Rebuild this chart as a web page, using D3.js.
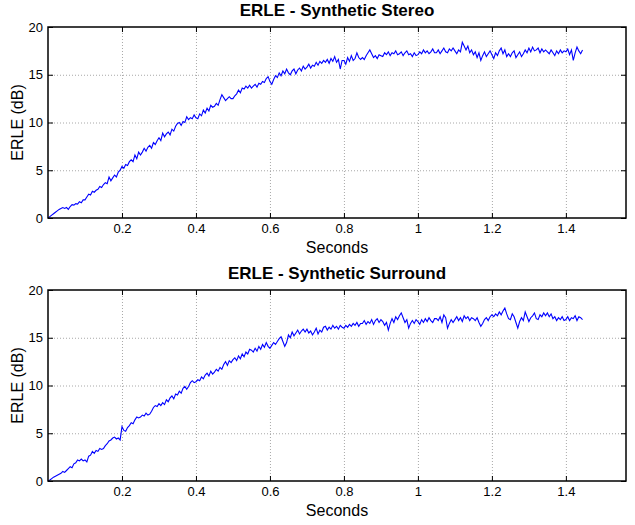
<!DOCTYPE html>
<html>
<head>
<meta charset="utf-8">
<script src="https://cdn.jsdelivr.net/npm/d3@7"></script>
<style>
    body { margin: 0; background: #fff; }
    svg text { font-family: "Liberation Sans", Arial, sans-serif; }
</style>
</head>
<body>
<div id="chart"></div>
<script>
// sample spacing of the curves (seconds)
const step = 0.005;

const xTicks = [0.2, 0.4, 0.6, 0.8, 1, 1.2, 1.4];
const yTicks = [0, 5, 10, 15, 20];

const titles = ['ERLE - Synthetic Stereo', 'ERLE - Synthetic Surround'];

// ERLE (dB), one value every 5 ms
const stereo = [
    0.0, 0.15, 0.3, 0.45, 0.6, 0.75, 0.9, 1.0, 1.1, 1.0,
    1.1, 0.9, 1.2, 1.4, 1.35, 1.5, 1.45, 1.7, 1.6, 1.9,
    1.9, 2.2, 2.5, 2.4, 2.8, 2.7, 2.9, 3.0, 3.3, 3.2,
    3.5, 3.7, 3.6, 4.3, 3.9, 4.2, 4.5, 4.3, 4.8, 5.0,
    5.4, 5.2, 5.6, 5.5, 5.9, 6.1, 5.9, 6.6, 6.2, 6.9,
    6.6, 6.9, 7.3, 7.0, 7.4, 7.6, 7.3, 7.9, 7.7, 8.1,
    8.4, 8.1, 8.9, 8.5, 8.8, 9.0, 8.7, 9.3, 9.1, 9.6,
    9.9, 10.0, 9.7, 10.1, 10.0, 10.6, 10.3, 10.5, 10.4, 10.8,
    10.5, 10.4, 10.9, 10.7, 11.3, 11.0, 11.5, 11.2, 11.8, 11.6,
    11.7, 12.0, 11.8, 12.4, 12.9, 12.6, 12.3, 12.5, 12.7, 12.5,
    12.5, 12.8, 13.0, 13.4, 13.1, 13.6, 13.5, 13.8, 13.6, 13.9,
    13.6, 13.8, 14.0, 13.7, 14.1, 14.0, 14.3, 14.2, 14.6, 14.8,
    14.3, 14.0, 14.5, 14.9, 14.7, 15.2, 14.9, 15.4, 15.1, 15.6,
    15.2, 15.0, 15.4, 15.6, 15.1, 15.5, 15.7, 15.4, 15.9, 15.6,
    15.8, 16.1, 15.7, 16.0, 15.9, 16.3, 16.0, 16.4, 16.2, 16.5,
    16.3, 16.6, 16.2, 16.7, 16.4, 16.9, 16.3, 16.6, 15.6, 16.5,
    16.5, 16.1, 16.8, 16.4, 17.0, 16.5, 16.7, 17.3, 16.8, 16.6,
    16.8, 16.6, 17.0, 17.3, 17.6, 17.2, 16.8, 17.0, 16.7, 17.1,
    17.0, 16.9, 17.3, 17.1, 17.4, 17.0, 17.3, 17.2, 17.5, 17.1,
    17.2, 17.4, 17.0, 17.3, 17.5, 17.1, 17.2, 16.9, 17.3, 17.0,
    17.1, 17.4, 17.2, 17.6, 17.3, 17.5, 17.2, 17.4, 17.7, 17.3,
    17.3, 17.6, 17.2, 17.5, 17.8, 17.4, 17.3, 17.7, 17.5, 17.8,
    17.5, 17.2, 17.6, 17.4, 18.4, 18.0, 17.6, 18.0, 17.3, 17.6,
    17.1, 17.4, 16.8, 17.3, 16.5, 17.0, 17.4, 16.9, 17.2, 17.5,
    17.1, 16.7, 17.3, 17.0, 17.5, 17.8, 17.2, 17.6, 16.9, 17.2,
    16.9, 17.3, 17.5, 16.8, 17.1, 17.4, 16.9, 17.2, 17.6, 17.3,
    17.8, 17.4, 17.9, 17.5, 17.6, 17.8, 17.3, 17.7, 17.4, 17.6,
    17.4, 17.2, 17.6, 17.3, 17.0, 17.5, 17.2, 17.6, 17.3, 17.5,
    17.4, 17.7, 17.1, 17.6, 16.5, 17.3, 17.9, 17.5, 17.2, 17.6
];

const surround = [
    0.0, 0.1, 0.25, 0.4, 0.5, 0.6, 0.7, 0.8, 1.0, 0.9,
    1.1, 1.3, 1.5, 1.4, 1.8, 1.9, 2.2, 2.1, 2.3, 2.1,
    2.2, 2.0, 2.6, 2.7, 3.1, 2.9, 3.2, 3.1, 3.4, 3.3,
    3.4, 3.7, 3.9, 4.2, 4.3, 4.5, 4.6, 4.4, 4.5, 4.3,
    5.7, 5.3, 5.2, 5.6, 5.8, 6.1, 6.0, 6.4, 6.7, 6.6,
    6.7, 6.9, 6.8, 7.1, 6.9, 7.0, 7.3, 7.7, 7.9, 7.8,
    8.1, 7.9, 8.2, 8.0, 8.5, 8.3, 8.7, 8.9, 8.6, 9.1,
    9.0, 9.4, 9.2, 9.7, 9.9, 9.6, 9.9, 10.3, 10.5, 10.3,
    10.4, 10.6, 10.5, 10.9, 10.7, 11.1, 11.3, 11.0, 11.5, 11.2,
    11.4, 11.7, 11.5, 11.9, 11.7, 12.2, 12.5, 12.1, 12.6, 12.4,
    12.7, 12.9, 12.6, 13.1, 12.8, 13.3, 13.0, 13.5, 13.3, 13.8,
    13.7, 13.5, 13.9, 13.6, 14.1, 13.8, 14.3, 14.0, 14.5, 14.1,
    13.9, 14.2, 14.5, 14.3, 14.6, 14.9, 15.1, 14.6, 14.1, 14.5,
    15.3, 15.0, 15.6, 15.2, 15.5, 15.8, 15.4, 15.7, 15.9, 15.6,
    15.9, 15.5, 15.7, 15.3, 15.6, 16.0, 15.4, 15.8, 15.6, 16.1,
    16.2, 15.8, 16.1, 15.9, 16.3, 16.0, 16.2, 15.9, 16.3, 16.1,
    16.0, 16.3, 16.1, 16.4, 16.2, 16.5, 16.3, 16.6, 16.2, 16.5,
    16.5, 16.8, 16.4, 16.7, 16.5, 16.9, 16.4, 16.8, 17.0, 16.6,
    16.9, 16.7, 16.3, 16.6, 15.8, 16.5, 17.0, 16.6, 17.2, 16.9,
    17.3, 17.6, 17.1, 16.6, 16.9, 16.0, 16.5, 16.8, 16.5, 16.9,
    16.7, 16.4, 16.9, 16.6, 17.0, 16.7, 17.1, 16.8, 16.6, 17.0,
    17.0, 16.8, 17.2, 16.6, 17.4, 17.1, 16.0, 16.5, 16.9, 16.6,
    16.9, 17.2, 16.8, 17.1, 16.7, 17.3, 17.0, 17.2, 16.8, 17.1,
    17.0, 16.8, 17.1, 16.6, 16.2, 16.5, 16.9, 17.1, 16.8, 17.2,
    17.4, 17.2, 17.5, 17.3, 17.7, 17.4, 17.8, 18.1, 17.5, 17.0,
    16.9, 17.5, 17.2, 16.6, 16.0, 16.7, 17.1, 16.8, 17.7, 17.2,
    16.7, 17.1, 17.3, 17.6, 17.0, 16.9, 17.4, 17.2, 17.6, 17.3,
    17.6, 17.2, 17.5, 17.0, 17.2, 16.8, 17.1, 16.9, 17.2, 16.8,
    16.9, 17.2, 16.8, 17.1, 17.0, 17.3, 16.8, 17.2, 17.1, 16.9
];

const width = 635;
const height = 525;

const svg = d3.select('#chart')
              .append('svg')
              .attr('width', width)
              .attr('height', height);

const xScale = d3.scaleLinear()
                 .domain([0, 1.5625])
                 .range([48, 626]);

function plotPanel(values, title, top) {
    const bottom = top + 191;
    const [left, right] = xScale.range();

    const yScale = d3.scaleLinear()
                     .domain([0, 20])
                     .range([bottom, top]);

    const g = svg.append('g');

    // dotted grid
    g.selectAll('.gx')
     .data(xTicks)
     .enter()
     .append('line')
     .attr('x1', d => xScale(d) + 0.5)
     .attr('x2', d => xScale(d) + 0.5)
     .attr('y1', top)
     .attr('y2', bottom)
     .attr('stroke', '#a8a8a8')
     .attr('stroke-dasharray', '1,2');

    g.selectAll('.gy')
     .data(yTicks.slice(1, -1))
     .enter()
     .append('line')
     .attr('x1', left)
     .attr('x2', right)
     .attr('y1', d => yScale(d) + 0.5)
     .attr('y2', d => yScale(d) + 0.5)
     .attr('stroke', '#a8a8a8')
     .attr('stroke-dasharray', '1,2');

    // the curve
    const line = d3.line()
                   .x((d, i) => xScale(i * step))
                   .y(d => yScale(d));

    g.append('path')
     .datum(values)
     .attr('d', line)
     .attr('fill', 'none')
     .attr('stroke', '#0000ff')
     .attr('stroke-width', 1.1);

    // axes, MATLAB style: ticks inward on all four sides
    const xAxis = d3.axisBottom(xScale)
                    .tickValues(xTicks)
                    .tickSizeInner(-5)
                    .tickSizeOuter(0)
                    .tickPadding(6)
                    .tickFormat(d3.format('~g'));

    const yAxis = d3.axisLeft(yScale)
                    .tickValues(yTicks)
                    .tickSizeInner(-5)
                    .tickSizeOuter(0)
                    .tickPadding(5);

    const gx = g.append('g')
                .attr('transform', `translate(0, ${bottom})`)
                .call(xAxis);

    const gy = g.append('g')
                .attr('transform', `translate(${left}, 0)`)
                .call(yAxis);

    g.append('g')
     .attr('transform', `translate(0, ${top})`)
     .call(d3.axisTop(xScale).tickValues(xTicks).tickSizeInner(-5).tickSizeOuter(0).tickFormat(''));

    g.append('g')
     .attr('transform', `translate(${right}, 0)`)
     .call(d3.axisRight(yScale).tickValues(yTicks).tickSizeInner(-5).tickSizeOuter(0).tickFormat(''));

    g.selectAll('.domain').remove();
    g.selectAll('.tick line').attr('stroke', '#000');
    [gx, gy].forEach(a => a.selectAll('text')
                           .style('font-size', '13px')
                           .attr('fill', '#000'));

    g.append('rect')
     .attr('x', left)
     .attr('y', top)
     .attr('width', right - left)
     .attr('height', bottom - top)
     .attr('fill', 'none')
     .attr('stroke', '#000')
     .attr('stroke-width', 1.5);

    g.append('text')
     .attr('x', (left + right) / 2)
     .attr('y', top - 11)
     .attr('text-anchor', 'middle')
     .style('font-size', '17px')
     .style('font-weight', 'bold')
     .text(title);

    g.append('text')
     .attr('x', (left + right) / 2)
     .attr('y', bottom + 35)
     .attr('text-anchor', 'middle')
     .style('font-size', '16px')
     .text('Seconds');

    g.append('text')
     .attr('transform', `translate(23, ${(top + bottom) / 2}) rotate(-90)`)
     .attr('text-anchor', 'middle')
     .style('font-size', '16px')
     .text('ERLE (dB)');
}

plotPanel(stereo, titles[0], 27);
plotPanel(surround, titles[1], 290);
</script>
</body>
</html>
